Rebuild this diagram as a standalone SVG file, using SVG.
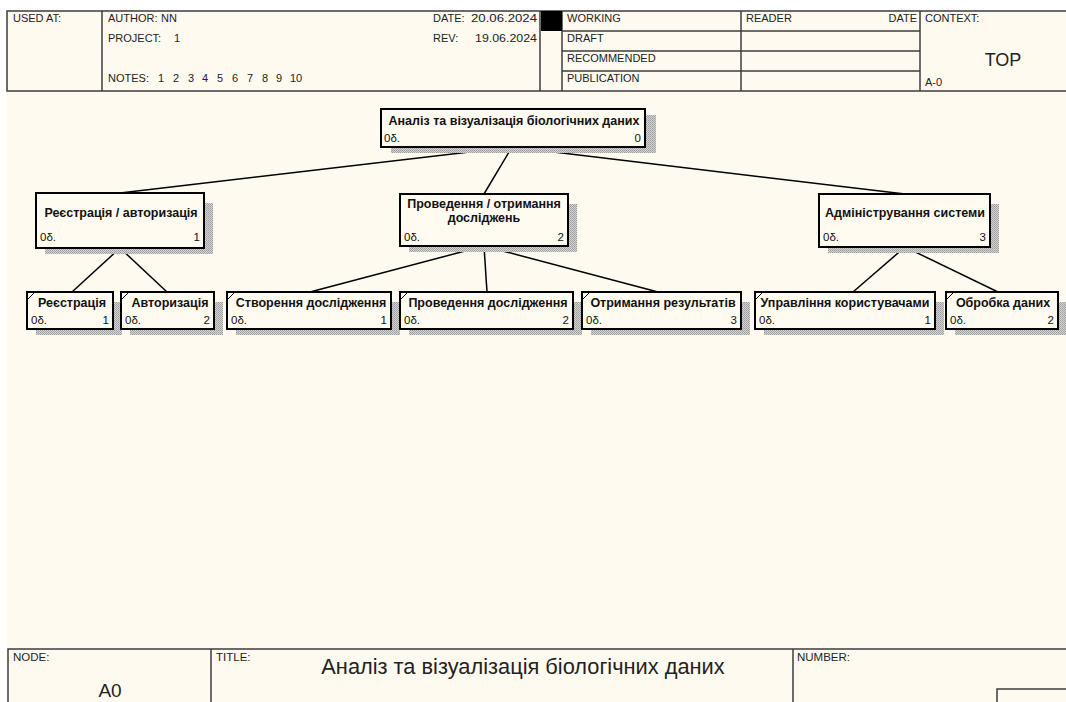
<svg xmlns="http://www.w3.org/2000/svg" width="1066" height="702" viewBox="0 0 1066 702">
<defs>
<pattern id="sh" width="2" height="2" patternUnits="userSpaceOnUse">
<rect width="2" height="2" fill="#d4d4d4"/>
<rect width="1" height="1" fill="#9c9c9c"/>
<rect x="1" y="1" width="1" height="1" fill="#a8a8a8"/>
</pattern>
<style>
.frame{fill:none;stroke:#3c3c3c;stroke-width:1.5}
.ln{stroke:#3c3c3c;stroke-width:1.5;fill:none}
.t{font-family:"Liberation Sans",Arial,sans-serif;font-size:11px;fill:#222}
.s{font-family:"Liberation Sans",Arial,sans-serif;font-size:11.5px;fill:#222}
.box{fill:#fffbf0;stroke:#000;stroke-width:2}
.shd{fill:url(#sh)}
.nt{font-family:"Liberation Sans",Arial,sans-serif;font-size:12.5px;font-weight:bold;fill:#111}
.nb{font-family:"Liberation Sans",Arial,sans-serif;font-size:11.5px;fill:#111}
.c{stroke:#000;stroke-width:1.5;fill:none}
.tick{stroke:#000;stroke-width:1}
</style>
</defs>
<rect width="1066" height="702" fill="#ffffff"/>
<rect x="7" y="10" width="1070" height="700" fill="#fffaf0"/>

<g id="header">
<rect x="7" y="11" width="1070" height="80" class="frame"/>
<line x1="102" y1="11" x2="102" y2="91" class="ln"/>
<line x1="540" y1="11" x2="540" y2="91" class="ln"/>
<line x1="562" y1="11" x2="562" y2="91" class="ln"/>
<line x1="741" y1="11" x2="741" y2="91" class="ln"/>
<line x1="920" y1="11" x2="920" y2="91" class="ln"/>
<line x1="562" y1="31" x2="920" y2="31" class="ln"/>
<line x1="562" y1="51" x2="920" y2="51" class="ln"/>
<line x1="562" y1="71" x2="920" y2="71" class="ln"/>
<rect x="541" y="11" width="21" height="20" fill="#000"/>
<text class="t" x="13" y="22">USED AT:</text>
<text class="t" x="108" y="22">AUTHOR:<tspan x="161">NN</tspan></text>
<text class="t" x="108" y="42">PROJECT:<tspan x="174">1</tspan></text>
<text class="t" x="108" y="82">NOTES:<tspan x="158">1</tspan><tspan x="173">2</tspan><tspan x="188">3</tspan><tspan x="202">4</tspan><tspan x="217">5</tspan><tspan x="232">6</tspan><tspan x="247">7</tspan><tspan x="262">8</tspan><tspan x="276">9</tspan><tspan x="290">10</tspan></text>
<text class="t" x="433" y="22">DATE:</text>
<text class="t" x="471" y="22" textLength="66" lengthAdjust="spacingAndGlyphs">20.06.2024</text>
<text class="t" x="433" y="42">REV:</text>
<text class="t" x="475" y="42" textLength="62" lengthAdjust="spacingAndGlyphs">19.06.2024</text>
<text class="t" x="567" y="22">WORKING</text>
<text class="t" x="567" y="42">DRAFT</text>
<text class="t" x="567" y="62">RECOMMENDED</text>
<text class="t" x="567" y="82">PUBLICATION</text>
<text class="t" x="746" y="22">READER</text>
<text class="t" x="917" y="22" text-anchor="end">DATE</text>
<text class="t" x="925" y="22">CONTEXT:</text>
<text x="1003" y="66" text-anchor="middle" font-family="Liberation Sans, Arial, sans-serif" font-size="18" fill="#222">TOP</text>
<text class="t" x="925" y="86">A-0</text>
</g>

<g id="footer">
<rect x="8" y="649" width="1070" height="60" class="frame"/>
<line x1="211" y1="649" x2="211" y2="702" class="ln"/>
<line x1="793" y1="649" x2="793" y2="702" class="ln"/>
<rect x="997" y="689" width="80" height="20" class="frame" stroke-width="1"/>
<text class="s" x="13" y="661">NODE:</text>
<text class="s" x="216" y="661">TITLE:</text>
<text class="s" x="797" y="661">NUMBER:</text>
<text x="523" y="674" text-anchor="middle" font-family="Liberation Sans, Arial, sans-serif" font-size="21.8" fill="#222">Аналіз та візуалізація біологічних даних</text>
<text x="110" y="697" text-anchor="middle" font-family="Liberation Sans, Arial, sans-serif" font-size="19" fill="#222">A0</text>
</g>

<g id="connectors">
<line class="c" x1="512" y1="147" x2="120" y2="193"/>
<line class="c" x1="512" y1="147" x2="484" y2="194"/>
<line class="c" x1="512" y1="147" x2="905" y2="194"/>
<line class="c" x1="120" y1="248" x2="72" y2="292"/>
<line class="c" x1="120" y1="248" x2="167" y2="292"/>
<line class="c" x1="484" y1="246" x2="310" y2="292"/>
<line class="c" x1="484" y1="246" x2="487" y2="292"/>
<line class="c" x1="484" y1="246" x2="658" y2="292"/>
<line class="c" x1="905" y1="247" x2="853" y2="292"/>
<line class="c" x1="905" y1="247" x2="998" y2="292"/>
</g>

<g id="node-A0">
<rect class="shd" x="391" y="115" width="265" height="38"/>
<rect class="box" x="381" y="109" width="264" height="38"/>
<text class="nt" x="514" y="125" text-anchor="middle">Аналіз та візуалізація біологічних даних</text>
<text class="nb" x="384" y="142">0δ.</text>
<text class="nb" x="641" y="142" text-anchor="end">0</text>
</g>

<g id="node-1">
<rect class="shd" x="45" y="203" width="168" height="51"/>
<rect class="box" x="36" y="193" width="168" height="55"/>
<text class="nt" x="121" y="217" text-anchor="middle">Реєстрація / авторизація</text>
<text class="nb" x="40" y="241">0δ.</text>
<text class="nb" x="200" y="241" text-anchor="end">1</text>
</g>

<g id="node-2">
<rect class="shd" x="409" y="204" width="168" height="48"/>
<rect class="box" x="400" y="194" width="168" height="52"/>
<text class="nt" x="484" y="208" text-anchor="middle">Проведення / отримання</text>
<text class="nt" x="484" y="222" text-anchor="middle">досліджень</text>
<text class="nb" x="404" y="241">0δ.</text>
<text class="nb" x="564" y="241" text-anchor="end">2</text>
</g>

<g id="node-3">
<rect class="shd" x="828" y="204" width="171" height="49"/>
<rect class="box" x="819" y="194" width="171" height="53"/>
<text class="nt" x="905" y="217" text-anchor="middle">Адміністрування системи</text>
<text class="nb" x="823" y="241">0δ.</text>
<text class="nb" x="986" y="241" text-anchor="end">3</text>
</g>

<g id="node-1-1">
<rect class="shd" x="36" y="302" width="86" height="33"/>
<rect class="box" x="27" y="292" width="86" height="37"/>
<line class="tick" x1="28" y1="299" x2="34" y2="293"/>
<text class="nt" x="72" y="307" text-anchor="middle">Реєстрація</text>
<text class="nb" x="31" y="324">0δ.</text>
<text class="nb" x="109" y="324" text-anchor="end">1</text>
</g>

<g id="node-1-2">
<rect class="shd" x="130" y="302" width="93" height="33"/>
<rect class="box" x="121" y="292" width="93" height="37"/>
<line class="tick" x1="122" y1="299" x2="128" y2="293"/>
<text class="nt" x="170" y="307" text-anchor="middle">Авторизація</text>
<text class="nb" x="125" y="324">0δ.</text>
<text class="nb" x="210" y="324" text-anchor="end">2</text>
</g>

<g id="node-2-1">
<rect class="shd" x="236" y="302" width="164" height="33"/>
<rect class="box" x="227" y="292" width="164" height="37"/>
<line class="tick" x1="228" y1="299" x2="234" y2="293"/>
<text class="nt" x="311" y="307" text-anchor="middle">Створення дослідження</text>
<text class="nb" x="231" y="324">0δ.</text>
<text class="nb" x="387" y="324" text-anchor="end">1</text>
</g>

<g id="node-2-2">
<rect class="shd" x="409" y="302" width="173" height="33"/>
<rect class="box" x="400" y="292" width="173" height="37"/>
<line class="tick" x1="401" y1="299" x2="407" y2="293"/>
<text class="nt" x="488" y="307" text-anchor="middle">Проведення дослідження</text>
<text class="nb" x="404" y="324">0δ.</text>
<text class="nb" x="569" y="324" text-anchor="end">2</text>
</g>

<g id="node-2-3">
<rect class="shd" x="591" y="302" width="159" height="33"/>
<rect class="box" x="582" y="292" width="159" height="37"/>
<line class="tick" x1="583" y1="299" x2="589" y2="293"/>
<text class="nt" x="663" y="307" text-anchor="middle">Отримання результатів</text>
<text class="nb" x="586" y="324">0δ.</text>
<text class="nb" x="737" y="324" text-anchor="end">3</text>
</g>

<g id="node-3-1">
<rect class="shd" x="764" y="302" width="180" height="33"/>
<rect class="box" x="755" y="292" width="180" height="37"/>
<line class="tick" x1="756" y1="299" x2="762" y2="293"/>
<text class="nt" x="845" y="307" text-anchor="middle">Управління користувачами</text>
<text class="nb" x="759" y="324">0δ.</text>
<text class="nb" x="931" y="324" text-anchor="end">1</text>
</g>

<g id="node-3-2">
<rect class="shd" x="955" y="302" width="112" height="33"/>
<rect class="box" x="946" y="292" width="112" height="37"/>
<line class="tick" x1="947" y1="299" x2="953" y2="293"/>
<text class="nt" x="1003" y="307" text-anchor="middle">Обробка даних</text>
<text class="nb" x="950" y="324">0δ.</text>
<text class="nb" x="1054" y="324" text-anchor="end">2</text>
</g>
</svg>
